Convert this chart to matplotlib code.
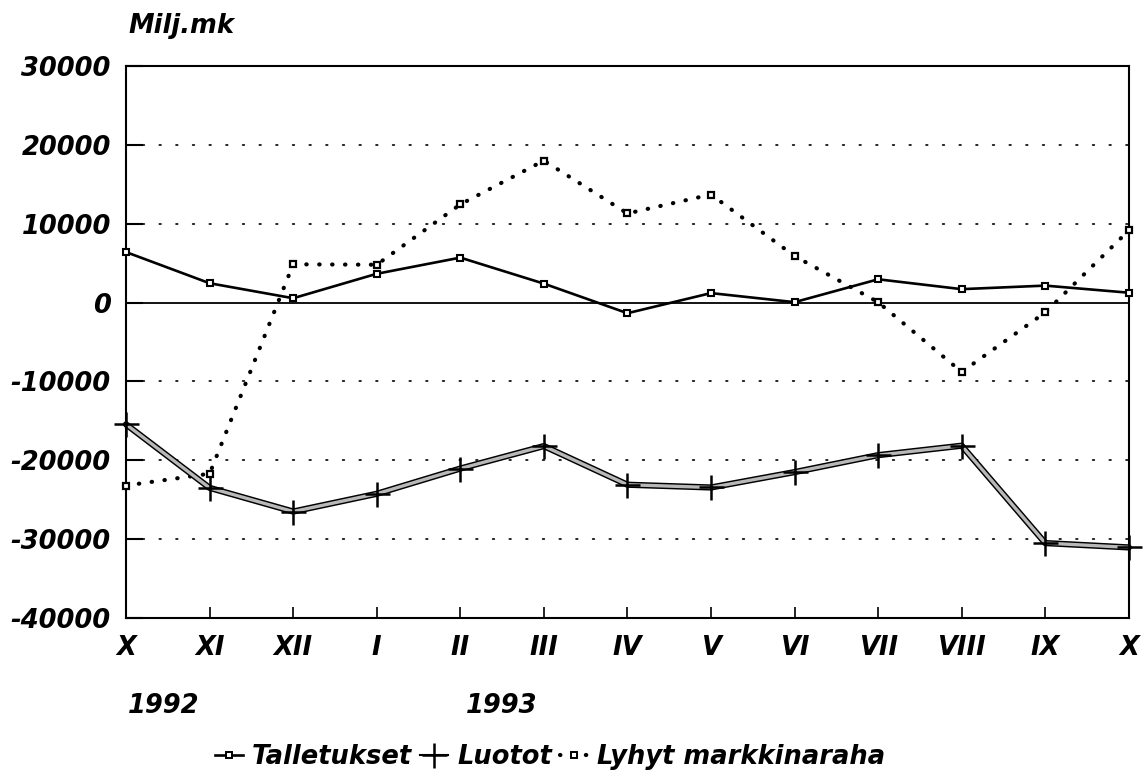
import matplotlib
matplotlib.use("Agg")
import matplotlib.pyplot as plt
from matplotlib.lines import Line2D

months = ["X", "XI", "XII", "I", "II", "III", "IV", "V", "VI", "VII", "VIII", "IX", "X"]
talletukset = [6400, 2450, 550, 3650, 5700, 2400, -1350, 1200, 50, 2950, 1700, 2150, 1250]
luotot = [-15450, -23500, -26500, -24250, -21050, -18200, -23100, -23450, -21500, -19350, -18150, -30500, -31050]
lyhyt = [-23200, -21700, 4850, 4800, 12450, 18000, 11300, 13700, 5900, 50, -8800, -1250, 9150]
yticks = [30000, 20000, 10000, 0, -10000, -20000, -30000, -40000]
grid_levels = [20000, 10000, -10000, -20000, -30000]
years = [("1992", 0.45), ("1993", 4.5)]

FONT = "DejaVu Sans"
fs = 18.5
tfont = dict(family=FONT, weight="bold", style="italic", size=fs)

fig = plt.figure(figsize=(11.46, 7.8), dpi=100)
ax = fig.add_axes([0.110, 0.2077, 0.875, 0.7077])
x = list(range(len(months)))

for g in grid_levels:
    ax.axhline(g, color="black", lw=1.2, linestyle=(0, (1, 9)), dash_capstyle="round", zorder=1)
ax.axhline(0, color="black", lw=1.3, zorder=1)

# Lyhyt markkinaraha
ax.plot(x, lyhyt, color="black", lw=3, linestyle=(0, (0.1, 3)), dash_capstyle="round",
        zorder=2, clip_on=False)
ax.plot(x, lyhyt, linestyle="none", marker="s", markersize=5, markerfacecolor="white",
        markeredgecolor="black", markeredgewidth=1.6, zorder=3, clip_on=False)

# Talletukset
ax.plot(x, talletukset, color="black", lw=1.9, marker="s", markersize=5,
        markerfacecolor="white", markeredgecolor="black", markeredgewidth=1.5, zorder=4,
        clip_on=False)

# Luotot
ax.plot(x, luotot, color="black", lw=4.5, solid_capstyle="round", zorder=4, clip_on=False)
ax.plot(x, luotot, color="#b8b8b8", lw=2.4, solid_capstyle="round", zorder=5, clip_on=False)
ax.plot(x, luotot, linestyle="none", marker="+", markersize=18, markeredgewidth=1.8,
        color="black", zorder=6, clip_on=False)

ax.set_xlim(0, 12)
ax.set_ylim(-40000, 30000)
ax.set_yticks(yticks)
ax.set_yticklabels([str(v) for v in yticks])
ax.set_xticks(x)
ax.set_xticklabels(months)
for lab in ax.get_xticklabels() + ax.get_yticklabels():
    lab.set_fontfamily(FONT)
    lab.set_fontweight("bold")
    lab.set_fontstyle("italic")
    lab.set_fontsize(fs)
ax.tick_params(axis="y", direction="in", length=12, width=1.5, pad=11)
ax.tick_params(axis="x", direction="in", length=8, width=1.2, pad=12)
for s in ax.spines.values():
    s.set_linewidth(1.5)

fig.text(128 / 1146, 1 - 26 / 780, "Milj.mk", ha="left", va="center", **tfont)
for label, xv in years:
    xp = ax.transData.transform((xv, 0))[0]
    fig.text(xp / fig.dpi / fig.get_figwidth(), 1 - 706 / 780, label, ha="center", va="center", **tfont)

h1 = Line2D([], [], color="black", lw=1.9, marker="s", markersize=5, markerfacecolor="white",
            markeredgecolor="black", markeredgewidth=1.4)
h2 = Line2D([], [], color="black", lw=1.5, marker="+", markersize=18, markeredgewidth=1.8)
h3 = Line2D([], [], color="black", lw=3, linestyle=(0, (0.1, 3)), dash_capstyle="round",
            marker="s", markersize=5, markerfacecolor="white", markeredgecolor="black",
            markeredgewidth=1.4)
leg = fig.legend([h1, h2, h3], ["Talletukset", "Luotot", "Lyhyt markkinaraha"],
                 loc="center", bbox_to_anchor=(550 / 1146, 1 - 757 / 780), ncol=3,
                 frameon=False, handlelength=1.1, handletextpad=0.35, columnspacing=0.3,
                 prop=dict(family=FONT, weight="bold", style="italic", size=fs))

fig.savefig("out.png", dpi=100)
